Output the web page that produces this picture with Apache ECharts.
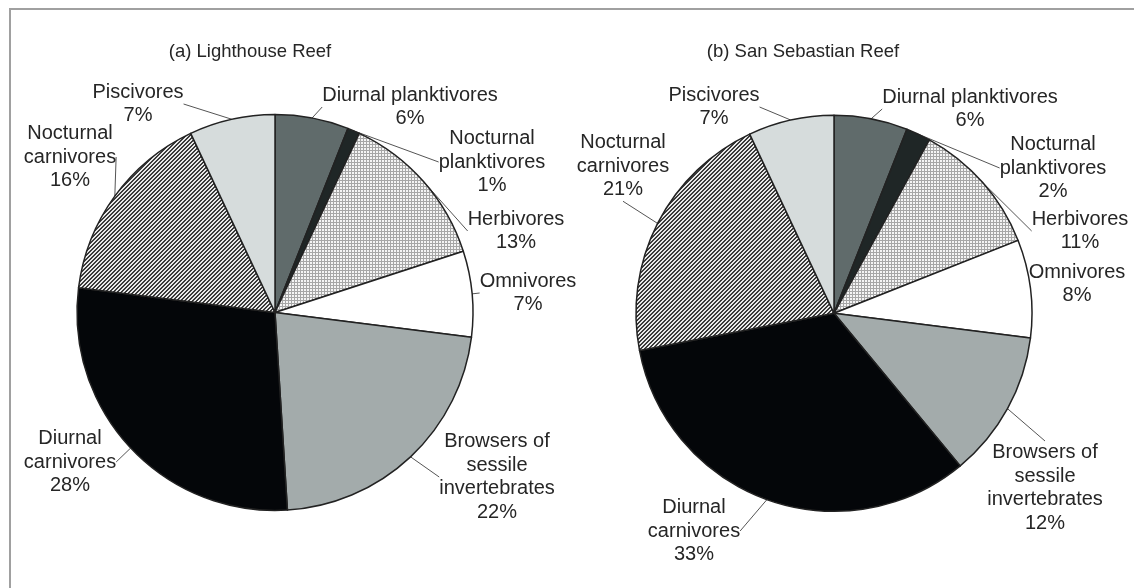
<!DOCTYPE html>
<html>
<head>
<meta charset="utf-8">
<script src="https://cdn.jsdelivr.net/npm/echarts@6/dist/echarts.min.js"></script>
<style>
  html, body { margin: 0; padding: 0; background: #ffffff; }
  #chart { width: 1134px; height: 588px; }
</style>
</head>
<body>
<div id="chart"></div>
<script>
// Trophic groups, listed clockwise from 12 o'clock
const categories = [
  'Diurnal planktivores',
  'Nocturnal\nplanktivores',
  'Herbivores',
  'Omnivores',
  'Browsers of\nsessile\ninvertebrates',
  'Diurnal\ncarnivores',
  'Nocturnal\ncarnivores',
  'Piscivores'
];
// Share of fish assemblage (%)
const lighthouseValues = [6, 1, 13, 7, 22, 28, 16, 7];
const sanSebastianValues = [6, 2, 11, 8, 12, 33, 21, 7];
const panelTitles = ['(a) Lighthouse Reef', '(b) San Sebastian Reef'];

// Label block centres (px) for each panel
const labelPosA = [[410, 107], [492, 162], [516, 231], [528, 293], [497, 477], [70, 462], [70, 157], [138, 104]];
const labelPosB = [[970, 109], [1053, 168], [1080, 231], [1077, 284], [1045, 488], [694, 531], [623, 166], [714, 107]];

const FONT = '"Liberation Sans", Arial, Helvetica, sans-serif';

// Small repeating tiles used as hatch fills
function makeTile(size, shade) {
  const c = document.createElement('canvas');
  c.width = size; c.height = size;
  const ctx = c.getContext('2d');
  const img = ctx.createImageData(size, size);
  for (let y = 0; y < size; y++) {
    for (let x = 0; x < size; x++) {
      const v = shade(x, y);
      const k = (y * size + x) * 4;
      img.data[k] = v; img.data[k + 1] = v; img.data[k + 2] = v; img.data[k + 3] = 255;
    }
  }
  ctx.putImageData(img, 0, 0);
  return c;
}
// diagonal "/" stripes
const stripeTile = makeTile(4, (x, y) => ((x + y) % 4) < 2 ? 0x3a : 0xe8);
// fine grid
const gridTile = makeTile(3, (x, y) => (x === 0 || y === 0) ? 0xa6 : 0xf4);

const fills = [
  '#606b6b',
  '#1f2626',
  { image: gridTile, repeat: 'repeat' },
  '#ffffff',
  '#a3abab',
  '#040609',
  { image: stripeTile, repeat: 'repeat' },
  '#d6dcdc'
];

function pieSeries(values, center, positions) {
  return {
    type: 'pie',
    center: center,
    radius: 198,
    startAngle: 90,
    clockwise: true,
    animation: false,
    silent: true,
    avoidLabelOverlap: false,
    data: values.map((v, i) => ({ name: categories[i], value: v, itemStyle: { color: fills[i] } })),
    itemStyle: { borderColor: '#222222', borderWidth: 1.5 },
    label: {
      show: true,
      position: 'outside',
      formatter: '{b}\n{c}%',
      color: '#262626',
      fontFamily: FONT,
      fontSize: 20,
      lineHeight: 23.5,
      align: 'center'
    },
    labelLine: {
      show: true,
      length: 10,
      length2: 0,
      smooth: false,
      lineStyle: { color: '#555555', width: 1 }
    },
    labelLayout: function (p) {
      const pos = positions[p.dataIndex];
      return { x: pos[0], y: pos[1], align: 'center', verticalAlign: 'middle' };
    },
    emphasis: { disabled: true }
  };
}

const chart = echarts.init(document.getElementById('chart'), null, { renderer: 'canvas' });
chart.setOption({
  backgroundColor: '#ffffff',
  animation: false,
  title: [
    { text: panelTitles[0], left: 245, top: 37, textAlign: 'center',
      textStyle: { fontFamily: FONT, fontSize: 18.5, fontWeight: 'normal', color: '#262626' } },
    { text: panelTitles[1], left: 798, top: 37, textAlign: 'center',
      textStyle: { fontFamily: FONT, fontSize: 18.5, fontWeight: 'normal', color: '#262626' } }
  ],
  graphic: [
    { type: 'rect', silent: true, z: -1,
      shape: { x: 10, y: 9, width: 1300, height: 700 },
      style: { fill: null, stroke: '#a0a0a0', lineWidth: 2 } }
  ],
  series: [
    pieSeries(lighthouseValues, [275, 312.5], labelPosA),
    pieSeries(sanSebastianValues, [834, 313.3], labelPosB)
  ]
});
</script>
</body>
</html>
